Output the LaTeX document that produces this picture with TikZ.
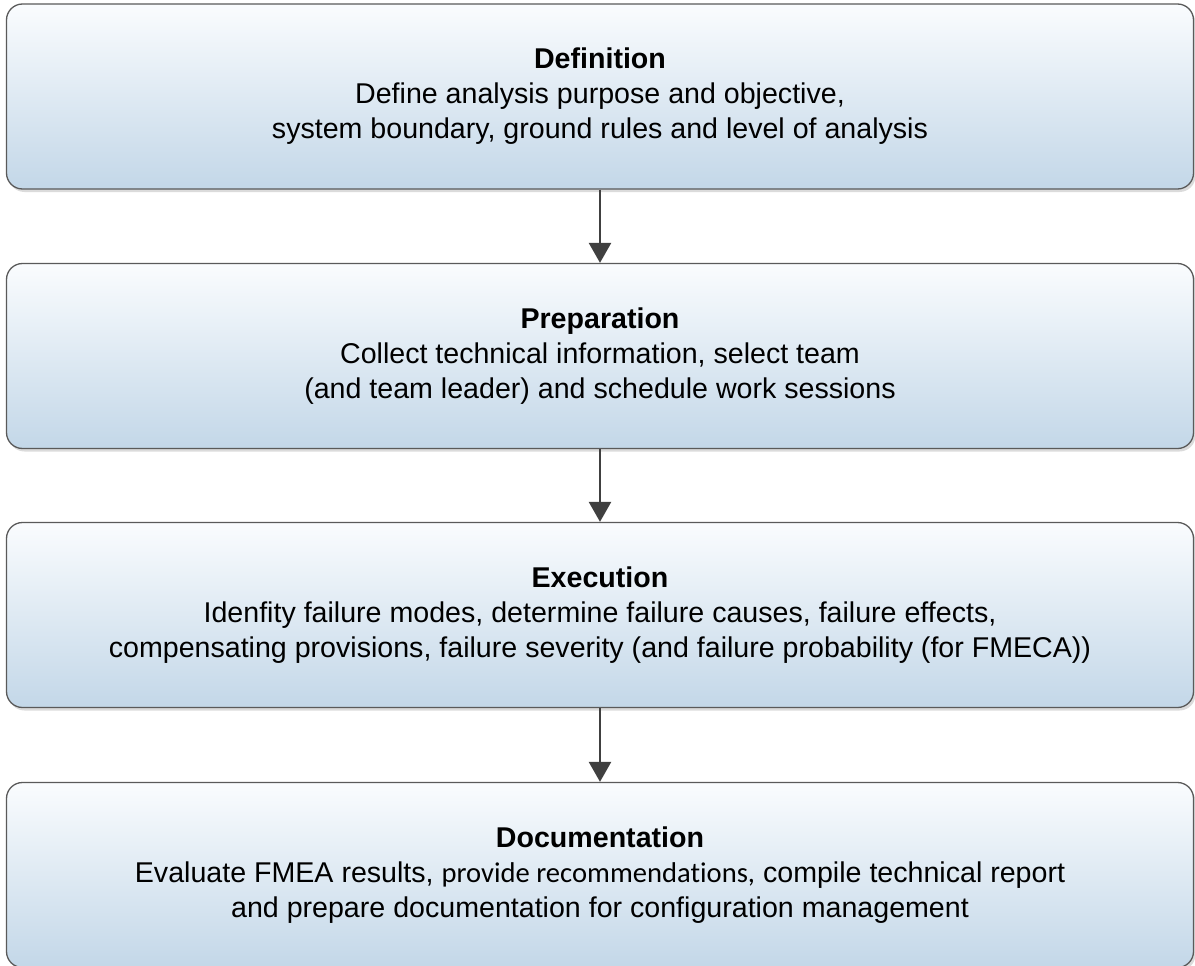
\documentclass[tikz,border=0pt]{standalone}
\usepackage{fontspec}
\setmainfont{Liberation Sans}
\newfontfamily\calib[Ligatures={NoCommon,NoRare,NoContextual}]{Carlito}
\usetikzlibrary{shadows,arrows.meta}
\definecolor{boxtop}{HTML}{FAFCFE}
\definecolor{boxbot}{HTML}{C3D7E8}
\definecolor{boxline}{HTML}{5A5A5A}
\definecolor{arrowc}{HTML}{404040}
\begin{document}
\begin{tikzpicture}[x=1pt,y=-1pt,
  stage/.style={draw=boxline, line width=1.3pt, rounded corners=16pt,
    top color=boxtop, bottom color=boxbot,
    minimum width=1187pt, minimum height=185pt, align=center,
    font=\fontsize{28.6}{35}\selectfont,
    drop shadow={shadow xshift=2pt, shadow yshift=-3pt, fill=black!14, opacity=1}},
  flow/.style={draw=arrowc, line width=2.6pt, -{Triangle[width=22pt,length=20pt]}}]
\useasboundingbox (0,0) rectangle (1195,966);
\clip (0,0) rectangle (1195,966);
\node[stage] (def) at (600,96.5) {\textbf{Definition}\\Define analysis purpose and objective,\\system boundary, ground rules and level of analysis};
\node[stage] (prep) at (600,356) {\textbf{Preparation}\\Collect technical information, select team\\(and team leader) and schedule work sessions};
\node[stage] (exec) at (600,615) {\textbf{Execution}\\Idenfity failure modes, determine failure causes, failure effects,\\compensating provisions, failure severity (and failure probability (for FMECA))};
\node[stage] (doc) at (600,875) {\textbf{Documentation}\\Evaluate FMEA results, {\calib\fontsize{28.6}{35}\selectfont provide recommendations,} compile technical report\\and prepare documentation for configuration management};
\draw[flow] (def.south) -- (prep.north);
\draw[flow] (prep.south) -- (exec.north);
\draw[flow] (exec.south) -- (doc.north);
\end{tikzpicture}
\end{document}
